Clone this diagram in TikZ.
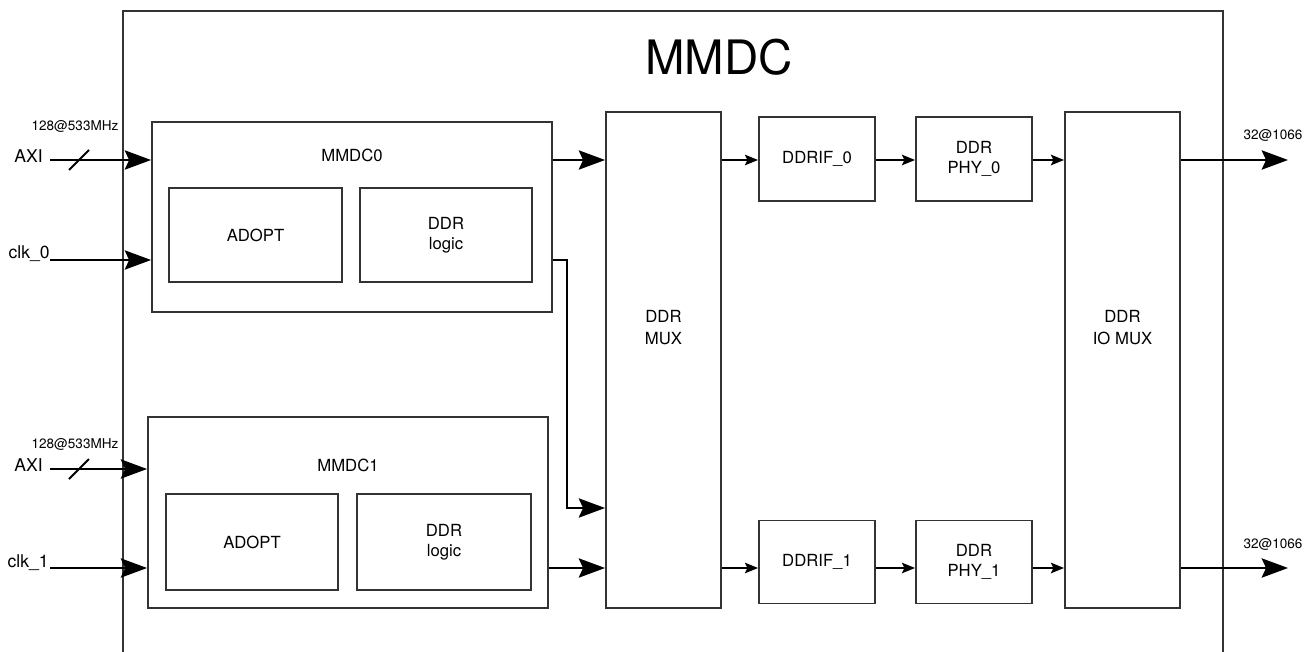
\documentclass[tikz,border=0pt]{standalone}
\usepackage{fontspec}
\setmainfont{TeX Gyre Heros}
\usetikzlibrary{arrows.meta}

\tikzset{
  box/.style={draw=black!80, line width=1.1pt, inner sep=0pt, align=center,
    font=\fontsize{9.5}{11.5}\selectfont},
  txt/.style={inner sep=0pt, align=center, font=\fontsize{9.5}{12}\selectfont},
  lbl/.style={inner sep=0pt, font=\fontsize{10}{12}\selectfont},
  tiny/.style={inner sep=0pt, font=\fontsize{7.7}{9}\selectfont},
  bigarrow/.style={line width=1.1pt, -{Stealth[length=15pt, width=11pt, inset=2.5pt]}},
  smallarrow/.style={line width=1.1pt, -{Stealth[length=7.5pt, width=6pt, inset=1.5pt]}}
}

\begin{document}
\begin{tikzpicture}[x=0.02cm, y=-0.02cm]
   \useasboundingbox (0,0) rectangle (1305,652);

   % the MMDC block, its bottom runs off the page
   \draw[line width=1.1pt, black!80] (123,652) |- (1223,11) -- (1223,652);
   \node[inner sep=0pt, font=\fontsize{27}{30}\selectfont] (title) at (719,57) {MMDC};

   % rows of the connectors
   \coordinate (row0) at (0,160);
   \coordinate (clkrow0) at (0,260);
   \coordinate (row1) at (0,469);
   \coordinate (clkrow1) at (0,568);
   \coordinate (outrow1) at (0,568);

   % controller 0
   \node[box, minimum width=8cm, minimum height=3.8cm] (mmdc0) at (352,217) {};
   \node[txt] (mmdc0lbl) at (352,155) {MMDC0};
   \node[box, minimum width=3.46cm, minimum height=1.88cm] (adopt0) at (255.5,235) {ADOPT};
   \node[box, minimum width=3.44cm, minimum height=1.88cm] (logic0) at (446,235) {DDR\\logic};

   % controller 1
   \node[box, minimum width=8cm, minimum height=3.82cm] (mmdc1) at (348,512.5) {};
   \node[txt] (mmdc1lbl) at (348,465) {MMDC1};
   \node[box, minimum width=3.44cm, minimum height=1.92cm] (adopt1) at (252,542) {ADOPT};
   \node[box, minimum width=3.48cm, minimum height=1.92cm] (logic1) at (444,542) {DDR\\logic};

   % muxes
   \node[box, minimum width=2.3cm, minimum height=9.92cm] (mux) at (663.5,360) {};
   \node[txt, font=\fontsize{9.5}{12.5}\selectfont] (muxlbl) at (663.5,328) {DDR\\MUX};
   \node[box, minimum width=2.3cm, minimum height=9.92cm] (iomux) at (1122.5,360) {};
   \node[txt, font=\fontsize{9.5}{12.5}\selectfont] (iomuxlbl) at (1122.5,328) {DDR\\IO MUX};

   % interfaces and phys
   \node[box, minimum width=2.32cm, minimum height=1.68cm] (ddrif0) at (817,159) {DDRIF\_0};
   \node[box, minimum width=2.32cm, minimum height=1.68cm] (phy0) at (974,159) {DDR\\PHY\_0};
   \node[box, minimum width=2.32cm, minimum height=1.66cm] (ddrif1) at (817,562) {DDRIF\_1};
   \node[box, minimum width=2.32cm, minimum height=1.66cm] (phy1) at (974,562) {DDR\\PHY\_1};

   % inputs
   \coordinate (axi0in) at (50,160);
   \coordinate (clk0in) at (50,260);
   \coordinate (axi1in) at (50,469);
   \coordinate (clk1in) at (50,568);
   \node[lbl, anchor=east] (axi0) at (43,156) {AXI};
   \node[lbl, anchor=east] (clk0) at (50,254) {clk\_0};
   \node[lbl, anchor=east] (axi1) at (43,465) {AXI};
   \node[lbl, anchor=east] (clk1) at (49,563) {clk\_1};
   \node[tiny] (bw0) at (75,126) {128@533MHz};
   \node[tiny] (bw1) at (75,444) {128@533MHz};

   \draw[bigarrow] (axi0in) -- (mmdc0.west |- axi0in);
   \draw[line width=1.1pt] ([shift={(19,10)}]axi0in) -- ++(20,-20);
   \draw[bigarrow] (clk0in) -- (mmdc0.west |- clk0in);
   \draw[bigarrow] (axi1in) -- (mmdc1.west |- axi1in);
   \draw[line width=1.1pt] ([shift={(19,10)}]axi1in) -- ++(20,-20);
   \draw[bigarrow] (clk1in) -- (mmdc1.west |- clk1in);

   % controllers to the mux
   \draw[bigarrow] (mmdc0.east |- row0) -- (mux.west |- row0);
   \draw[bigarrow] (mmdc0.east |- clkrow0) -| (567,508) -- (mux.west |- 0,508);
   \draw[bigarrow] (mmdc1.east |- outrow1) -- (mux.west |- outrow1);

   % channel 0
   \draw[smallarrow] (mux.east |- row0) -- (ddrif0.west |- row0);
   \draw[smallarrow] (ddrif0.east |- row0) -- (phy0.west |- row0);
   \draw[smallarrow] (phy0.east |- row0) -- (iomux.west |- row0);

   % channel 1
   \draw[smallarrow] (mux.east |- outrow1) -- (ddrif1.west |- outrow1);
   \draw[smallarrow] (ddrif1.east |- outrow1) -- (phy1.west |- outrow1);
   \draw[smallarrow] (phy1.east |- outrow1) -- (iomux.west |- outrow1);

   % outputs
   \coordinate (out0) at (1288,160);
   \coordinate (out1) at (1288,568);
   \draw[bigarrow] (iomux.east |- out0) -- (out0);
   \draw[bigarrow] (iomux.east |- out1) -- (out1);
   \node[tiny] (bwout0) at (1273,135) {32@1066};
   \node[tiny] (bwout1) at (1273,544) {32@1066};
\end{tikzpicture}
\end{document}
